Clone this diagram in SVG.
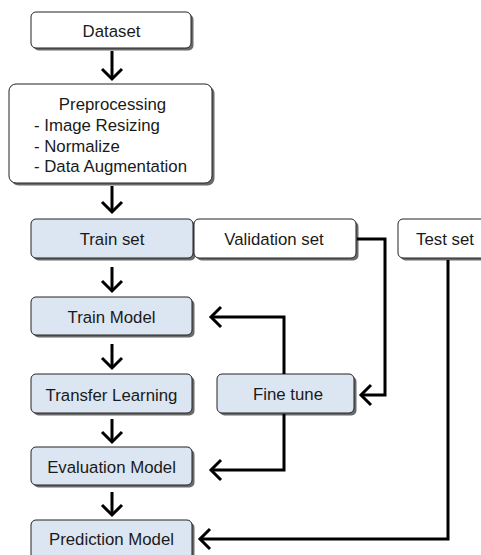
<svg xmlns="http://www.w3.org/2000/svg" width="481" height="555" viewBox="0 0 481 555">
<style>
.box{stroke:#222;stroke-width:1}
.w{fill:#fff}
.b{fill:#dce6f2}
.sh{fill:#6a6a6a}
text{font-family:"Liberation Sans",Arial,sans-serif;font-size:16.8px;fill:#1a1a1a}
.c{text-anchor:middle}
.ln{fill:none;stroke:#000;stroke-width:3;marker-end:url(#ah)}
</style>
<defs>
<marker id="ah" viewBox="-12 -12 24 24" markerWidth="24" markerHeight="24" refX="0" refY="0" orient="auto" markerUnits="userSpaceOnUse">
<path d="M-10,-10 L0,0 L-10,10" fill="none" stroke="#000" stroke-width="3"/>
</marker>
</defs>
<rect width="481" height="555" fill="#fff"/>
<g id="dataset">
<rect class="sh" x="33.5" y="14.5" width="160" height="36" rx="5"/>
<rect class="box w" x="31" y="12" width="160" height="36" rx="5"/>
<text class="c" x="111.5" y="37">Dataset</text>
</g>
<g id="preprocessing">
<rect class="sh" x="11.5" y="86.5" width="203" height="99" rx="7"/>
<rect class="box w" x="9" y="84" width="203" height="99" rx="7"/>
<text class="c" x="112.5" y="110">Preprocessing</text>
<text x="34" y="131">- Image Resizing</text>
<text x="34" y="151.5">- Normalize</text>
<text x="34" y="172">- Data Augmentation</text>
</g>
<g id="trainset">
<rect class="sh" x="33.5" y="221.5" width="162" height="39" rx="5"/>
<rect class="box b" x="31" y="219" width="162" height="39" rx="5"/>
<text class="c" x="112" y="245">Train set</text>
</g>
<g id="validationset">
<rect class="sh" x="196.5" y="221.5" width="162" height="39" rx="5"/>
<rect class="box w" x="194" y="219" width="162" height="39" rx="5"/>
<text class="c" x="274" y="245">Validation set</text>
</g>
<g id="testset">
<rect class="sh" x="400.5" y="221.5" width="100" height="39" rx="5"/>
<rect class="box w" x="398" y="219" width="100" height="39" rx="5"/>
<text class="c" x="445" y="245">Test set</text>
</g>
<g id="trainmodel">
<rect class="sh" x="33.5" y="299.5" width="161" height="38" rx="5"/>
<rect class="box b" x="31" y="297" width="161" height="38" rx="5"/>
<text class="c" x="111.5" y="322.5">Train Model</text>
</g>
<g id="transferlearning">
<rect class="sh" x="33.5" y="376.5" width="161" height="39" rx="5"/>
<rect class="box b" x="31" y="374" width="161" height="39" rx="5"/>
<text class="c" x="111.5" y="400.5">Transfer Learning</text>
</g>
<g id="finetune">
<rect class="sh" x="219.5" y="376.5" width="137" height="39" rx="5"/>
<rect class="box b" x="217" y="374" width="137" height="39" rx="5"/>
<text class="c" x="288" y="400">Fine tune</text>
</g>
<g id="evaluationmodel">
<rect class="sh" x="33.5" y="449.5" width="161" height="38" rx="5"/>
<rect class="box b" x="31" y="447" width="161" height="38" rx="5"/>
<text class="c" x="111.5" y="472.5">Evaluation Model</text>
</g>
<g id="predictionmodel">
<rect class="sh" x="33.5" y="522.5" width="161" height="50" rx="5"/>
<rect class="box b" x="31" y="520" width="161" height="50" rx="5"/>
<text class="c" x="111.5" y="545">Prediction Model</text>
</g>
<g id="connectors">
<path class="ln" d="M112,51 V79"/>
<path class="ln" d="M112,186 V212"/>
<path class="ln" d="M112,267 V291"/>
<path class="ln" d="M112,344 V368"/>
<path class="ln" d="M112,419 V442"/>
<path class="ln" d="M112,492 V515"/>
<path class="ln" d="M357,239 H385 V395 H361"/>
<path class="ln" d="M448,260 V539 H200"/>
<path class="ln" d="M284,374 V317 H211"/>
<path class="ln" d="M284,414 V470 H211"/>
</g>
</svg>
